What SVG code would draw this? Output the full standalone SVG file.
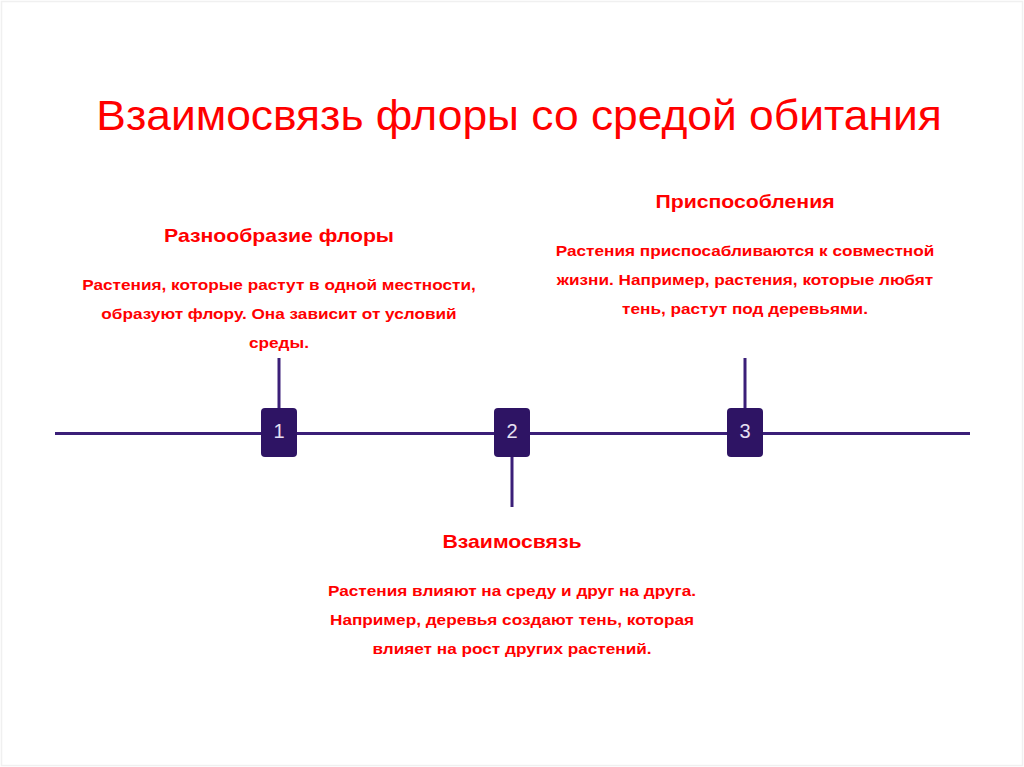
<svg xmlns="http://www.w3.org/2000/svg" width="1024" height="767" viewBox="0 0 1024 767">
<style>
.t{font-family:"Liberation Sans",Arial,sans-serif;fill:#ff0000;text-anchor:middle}
.title{font-size:42px}
.h{font-size:18px;font-weight:bold}
.b{font-size:15px;font-weight:bold}
.ln{stroke:#3b1f78;stroke-width:3;fill:none}
.box{fill:#2e1464}
.num{font-family:"Liberation Sans",Arial,sans-serif;font-size:20px;fill:#e6e0f2;text-anchor:middle}
</style>
<rect x="0" y="0" width="1024" height="767" fill="#ffffff"/>
<rect x="1.5" y="1.5" width="1021" height="764" fill="none" stroke="#f0f0f0" stroke-width="1.5"/>
<text class="t title" transform="translate(519 130) scale(1.056 1)">Взаимосвязь флоры со средой обитания</text>
<g id="connectors">
<line class="ln" x1="55" y1="433.5" x2="970" y2="433.5"/>
<line class="ln" x1="279" y1="358" x2="279" y2="410"/>
<line class="ln" x1="512" y1="455" x2="512" y2="507"/>
<line class="ln" x1="745" y1="358" x2="745" y2="410"/>
</g>
<g id="node1">
<rect class="box" x="261" y="408" width="36" height="49" rx="4"/>
<text class="num" x="279" y="438">1</text>
</g>
<g id="node2">
<rect class="box" x="494" y="408" width="36" height="49" rx="4"/>
<text class="num" x="512" y="438">2</text>
</g>
<g id="node3">
<rect class="box" x="727" y="408" width="36" height="49" rx="4"/>
<text class="num" x="745" y="438">3</text>
</g>
<g id="label1">
<text class="t h" transform="translate(279 242) scale(1.18 1)">Разнообразие флоры</text>
<text class="t b" transform="translate(279 290) scale(1.146 1)">Растения, которые растут в одной местности,</text>
<text class="t b" transform="translate(279 319) scale(1.146 1)">образуют флору. Она зависит от условий</text>
<text class="t b" transform="translate(279 348) scale(1.146 1)">среды.</text>
</g>
<g id="label3">
<text class="t h" transform="translate(745 208) scale(1.18 1)">Приспособления</text>
<text class="t b" transform="translate(745 256) scale(1.146 1)">Растения приспосабливаются к совместной</text>
<text class="t b" transform="translate(745 285) scale(1.146 1)">жизни. Например, растения, которые любят</text>
<text class="t b" transform="translate(745 314) scale(1.146 1)">тень, растут под деревьями.</text>
</g>
<g id="label2">
<text class="t h" transform="translate(512 548) scale(1.18 1)">Взаимосвязь</text>
<text class="t b" transform="translate(512 596) scale(1.146 1)">Растения влияют на среду и друг на друга.</text>
<text class="t b" transform="translate(512 625) scale(1.146 1)">Например, деревья создают тень, которая</text>
<text class="t b" transform="translate(512 654) scale(1.146 1)">влияет на рост других растений.</text>
</g>
</svg>
